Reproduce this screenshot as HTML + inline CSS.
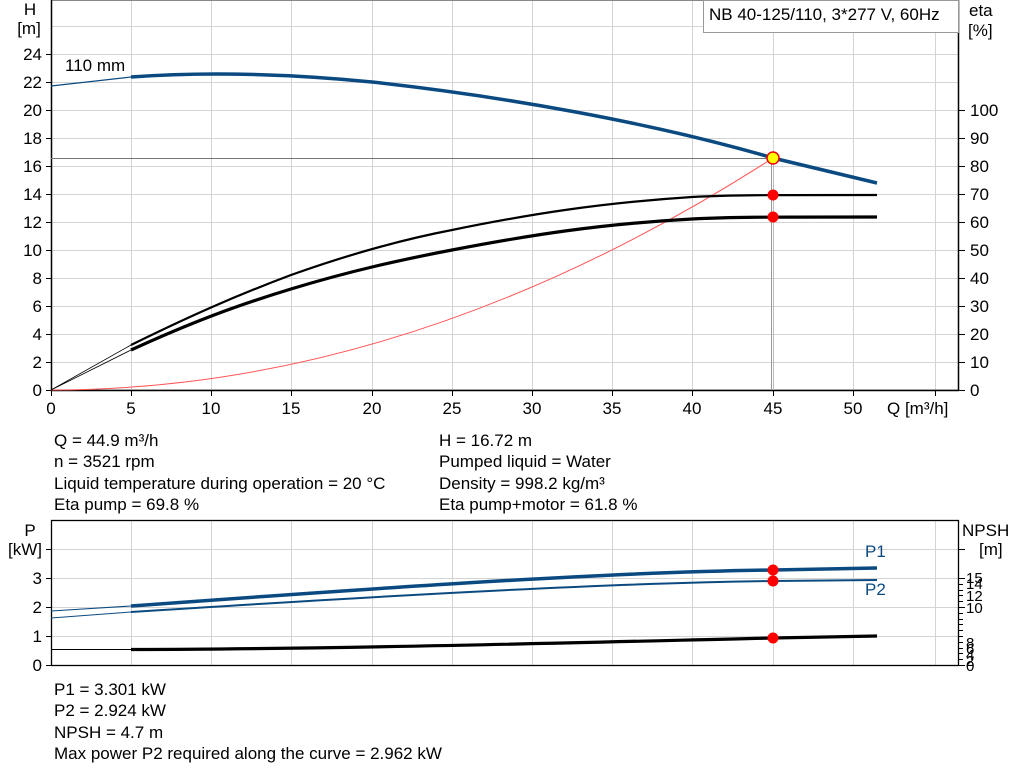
<!DOCTYPE html>
<html><head><meta charset="utf-8"><style>
body{margin:0;background:#fff}
svg{display:block;font-family:"Liberation Sans",sans-serif}
</style></head><body>
<svg width="1024" height="781" viewBox="0 0 1024 781" xmlns="http://www.w3.org/2000/svg">
<rect width="1024" height="781" fill="#fff"/>
<g stroke="#d4d4d4" stroke-width="1">
<line x1="131.5" y1="0" x2="131.5" y2="390"/><line x1="211.5" y1="0" x2="211.5" y2="390"/><line x1="291.5" y1="0" x2="291.5" y2="390"/><line x1="372.5" y1="0" x2="372.5" y2="390"/><line x1="452.5" y1="0" x2="452.5" y2="390"/><line x1="532.5" y1="0" x2="532.5" y2="390"/><line x1="612.5" y1="0" x2="612.5" y2="390"/><line x1="692.5" y1="0" x2="692.5" y2="390"/><line x1="773.5" y1="0" x2="773.5" y2="390"/><line x1="853.5" y1="0" x2="853.5" y2="390"/><line x1="935.5" y1="0" x2="935.5" y2="390"/>
<line x1="51" y1="362.5" x2="959" y2="362.5"/><line x1="51" y1="334.5" x2="959" y2="334.5"/><line x1="51" y1="306.5" x2="959" y2="306.5"/><line x1="51" y1="278.5" x2="959" y2="278.5"/><line x1="51" y1="250.5" x2="959" y2="250.5"/><line x1="51" y1="222.5" x2="959" y2="222.5"/><line x1="51" y1="194.5" x2="959" y2="194.5"/><line x1="51" y1="166.5" x2="959" y2="166.5"/><line x1="51" y1="138.5" x2="959" y2="138.5"/><line x1="51" y1="110.5" x2="959" y2="110.5"/><line x1="51" y1="82.5" x2="959" y2="82.5"/><line x1="51" y1="54.5" x2="959" y2="54.5"/><line x1="51" y1="26.5" x2="959" y2="26.5"/>
</g>
<rect x="51.5" y="0.5" width="907" height="389.5" fill="none" stroke="#888" stroke-width="1"/>
<line x1="51.5" y1="0" x2="51.5" y2="391" stroke="#000" stroke-width="1.5"/>
<line x1="51" y1="390.5" x2="959" y2="390.5" stroke="#000" stroke-width="1.5"/>
<line x1="958.5" y1="0" x2="958.5" y2="391" stroke="#000" stroke-width="1.5"/>
<g stroke="#000" stroke-width="1">
<line x1="46" y1="390.5" x2="51" y2="390.5"/><line x1="46" y1="362.5" x2="51" y2="362.5"/><line x1="46" y1="334.5" x2="51" y2="334.5"/><line x1="46" y1="306.5" x2="51" y2="306.5"/><line x1="46" y1="278.5" x2="51" y2="278.5"/><line x1="46" y1="250.5" x2="51" y2="250.5"/><line x1="46" y1="222.5" x2="51" y2="222.5"/><line x1="46" y1="194.5" x2="51" y2="194.5"/><line x1="46" y1="166.5" x2="51" y2="166.5"/><line x1="46" y1="138.5" x2="51" y2="138.5"/><line x1="46" y1="110.5" x2="51" y2="110.5"/><line x1="46" y1="82.5" x2="51" y2="82.5"/><line x1="46" y1="54.5" x2="51" y2="54.5"/>
<line x1="959" y1="390.5" x2="965" y2="390.5"/><line x1="959" y1="362.5" x2="965" y2="362.5"/><line x1="959" y1="334.5" x2="965" y2="334.5"/><line x1="959" y1="306.5" x2="965" y2="306.5"/><line x1="959" y1="278.5" x2="965" y2="278.5"/><line x1="959" y1="250.5" x2="965" y2="250.5"/><line x1="959" y1="222.5" x2="965" y2="222.5"/><line x1="959" y1="194.5" x2="965" y2="194.5"/><line x1="959" y1="166.5" x2="965" y2="166.5"/><line x1="959" y1="138.5" x2="965" y2="138.5"/><line x1="959" y1="110.5" x2="965" y2="110.5"/>
<line x1="51.5" y1="390" x2="51.5" y2="396"/><line x1="131.5" y1="390" x2="131.5" y2="396"/><line x1="211.5" y1="390" x2="211.5" y2="396"/><line x1="291.5" y1="390" x2="291.5" y2="396"/><line x1="372.5" y1="390" x2="372.5" y2="396"/><line x1="452.5" y1="390" x2="452.5" y2="396"/><line x1="532.5" y1="390" x2="532.5" y2="396"/><line x1="612.5" y1="390" x2="612.5" y2="396"/><line x1="692.5" y1="390" x2="692.5" y2="396"/><line x1="773.5" y1="390" x2="773.5" y2="396"/><line x1="853.5" y1="390" x2="853.5" y2="396"/><line x1="935.5" y1="390" x2="935.5" y2="396"/>
</g>
<g font-size="17" fill="#000" text-anchor="end">
<text x="42" y="396">0</text><text x="42" y="368">2</text><text x="42" y="340">4</text><text x="42" y="312">6</text><text x="42" y="284">8</text><text x="42" y="256">10</text><text x="42" y="228">12</text><text x="42" y="200">14</text><text x="42" y="172">16</text><text x="42" y="144">18</text><text x="42" y="116">20</text><text x="42" y="88">22</text><text x="42" y="60">24</text>
</g>
<text x="30" y="15" font-size="17" text-anchor="middle">H</text>
<text x="29" y="34" font-size="17" text-anchor="middle">[m]</text>
<g font-size="17" fill="#000">
<text x="970" y="396">0</text><text x="970" y="368">10</text><text x="970" y="340">20</text><text x="970" y="312">30</text><text x="970" y="284">40</text><text x="970" y="256">50</text><text x="970" y="228">60</text><text x="970" y="200">70</text><text x="970" y="172">80</text><text x="970" y="144">90</text><text x="970" y="116">100</text>
<text x="969" y="16">eta</text><text x="968" y="36">[%]</text>
</g>
<g font-size="17" text-anchor="middle">
<text x="51" y="414">0</text><text x="131" y="414">5</text><text x="211" y="414">10</text><text x="291" y="414">15</text><text x="372" y="414">20</text><text x="452" y="414">25</text><text x="532" y="414">30</text><text x="612" y="414">35</text><text x="692" y="414">40</text><text x="773" y="414">45</text><text x="853" y="414">50</text>
</g>
<text x="887" y="414" font-size="17">Q [m³/h]</text>
<rect x="703.5" y="0.5" width="255" height="32" fill="#fff" stroke="#999"/>
<text x="709" y="20" font-size="17">NB 40-125/110, 3*277 V, 60Hz</text>
<text x="65" y="71" font-size="17">110 mm</text>
<line x1="51" y1="158.5" x2="773" y2="158.5" stroke="#777" stroke-width="1"/>
<line x1="771.5" y1="158" x2="771.5" y2="390" stroke="#999" stroke-width="1"/>
<line x1="773.5" y1="158" x2="773.5" y2="390" stroke="#bbb" stroke-width="1"/>
<path d="M51,390 Q412,390 773,158" fill="none" stroke="#f55" stroke-width="1"/>
<path d="M51,86 L131,77" stroke="#0b4a80" stroke-width="1.2" fill="none"/>
<path d="M131,77 C200,72 280,73 372,82 C500,96 650,122 773,158 L877,183" stroke="#0b4a80" stroke-width="3.5" fill="none"/>
<path d="M51,390 L131,345 M51,390 L131,350" stroke="#000" stroke-width="0.8" fill="none"/>
<path d="M131,345 C190,316 235,296 291,275 C350,254 400,240 452,230 C530,214 600,203 692,197 C730,195 760,195 877,195" stroke="#000" stroke-width="2.2" fill="none"/>
<path d="M131,350 C190,323 235,306 291,289 C350,271 400,260 452,250 C530,235 600,224 692,219 C730,217 760,217 877,217" stroke="#000" stroke-width="3.2" fill="none"/>
<circle cx="773" cy="195" r="5.5" fill="#f00"/>
<circle cx="773" cy="217" r="5.5" fill="#f00"/>
<circle cx="773" cy="158" r="6" fill="#ff0" stroke="#e00" stroke-width="1.5"/>
<g font-size="17">
<text x="54" y="446">Q = 44.9 m³/h</text><text x="54" y="467">n = 3521 rpm</text><text x="54" y="489">Liquid temperature during operation = 20 °C</text><text x="54" y="510">Eta pump = 69.8 %</text>
<text x="439" y="446">H = 16.72 m</text><text x="439" y="467">Pumped liquid = Water</text><text x="439" y="489">Density = 998.2 kg/m³</text><text x="439" y="510">Eta pump+motor = 61.8 %</text>
</g>
<g stroke="#d4d4d4" stroke-width="1">
<line x1="131.5" y1="520" x2="131.5" y2="665"/><line x1="211.5" y1="520" x2="211.5" y2="665"/><line x1="291.5" y1="520" x2="291.5" y2="665"/><line x1="372.5" y1="520" x2="372.5" y2="665"/><line x1="452.5" y1="520" x2="452.5" y2="665"/><line x1="532.5" y1="520" x2="532.5" y2="665"/><line x1="612.5" y1="520" x2="612.5" y2="665"/><line x1="692.5" y1="520" x2="692.5" y2="665"/><line x1="773.5" y1="520" x2="773.5" y2="665"/><line x1="853.5" y1="520" x2="853.5" y2="665"/><line x1="935.5" y1="520" x2="935.5" y2="665"/>
<line x1="51" y1="636.5" x2="959" y2="636.5"/><line x1="51" y1="607.5" x2="959" y2="607.5"/><line x1="51" y1="578.5" x2="959" y2="578.5"/><line x1="51" y1="549.5" x2="959" y2="549.5"/>
</g>
<rect x="51.5" y="520.5" width="907" height="145" fill="none" stroke="#000" stroke-width="1.3"/>
<g stroke="#000" stroke-width="1">
<line x1="46" y1="665.5" x2="51" y2="665.5"/><line x1="46" y1="636.5" x2="51" y2="636.5"/><line x1="46" y1="607.5" x2="51" y2="607.5"/><line x1="46" y1="578.5" x2="51" y2="578.5"/><line x1="46" y1="549.5" x2="51" y2="549.5"/>
<line x1="959" y1="665.5" x2="965" y2="665.5"/><line x1="959" y1="659.5" x2="963" y2="659.5"/><line x1="959" y1="653.5" x2="963" y2="653.5"/><line x1="959" y1="648.5" x2="963" y2="648.5"/><line x1="959" y1="642.5" x2="963" y2="642.5"/><line x1="959" y1="636.5" x2="963" y2="636.5"/><line x1="959" y1="630.5" x2="963" y2="630.5"/><line x1="959" y1="624.5" x2="963" y2="624.5"/><line x1="959" y1="619.5" x2="963" y2="619.5"/><line x1="959" y1="613.5" x2="963" y2="613.5"/><line x1="959" y1="607.5" x2="965" y2="607.5"/><line x1="959" y1="601.5" x2="963" y2="601.5"/><line x1="959" y1="595.5" x2="963" y2="595.5"/><line x1="959" y1="590.5" x2="963" y2="590.5"/><line x1="959" y1="584.5" x2="963" y2="584.5"/><line x1="959" y1="578.5" x2="965" y2="578.5"/><line x1="959" y1="549.5" x2="965" y2="549.5"/>
</g>
<g font-size="17" text-anchor="end">
<text x="42" y="671">0</text><text x="42" y="642">1</text><text x="42" y="613">2</text><text x="42" y="584">3</text>
</g>
<text x="30" y="536" font-size="17" text-anchor="middle">P</text>
<text x="25" y="555" font-size="17" text-anchor="middle">[kW]</text>
<text x="962" y="536" font-size="17">NPSH</text>
<text x="979" y="555" font-size="17">[m]</text>
<g font-size="15" fill="#000">
<text x="966" y="671">0</text><text x="966" y="666">2</text><text x="966" y="660">4</text><text x="966" y="654">6</text><text x="966" y="648">8</text><text x="966" y="613">10</text><text x="966" y="601">12</text><text x="966" y="589">14</text><text x="966" y="583">15</text>
</g>
<path d="M51,611 L131,606 M51,618 L131,612" stroke="#0b4a80" stroke-width="1" fill="none"/>
<path d="M131,606 C350,590 600,572 773,570 L877,568" stroke="#0b4a80" stroke-width="3.5" fill="none"/>
<path d="M131,612 C350,598 600,583 773,581 L877,580" stroke="#0b4a80" stroke-width="2" fill="none"/>
<path d="M51,649.5 L131,649.5" stroke="#000" stroke-width="1" fill="none"/>
<path d="M131,649.5 C350,649 600,642 773,638 L877,636" stroke="#000" stroke-width="3.2" fill="none"/>
<circle cx="773" cy="570" r="5.5" fill="#f00"/>
<circle cx="773" cy="581" r="5.5" fill="#f00"/>
<circle cx="773" cy="638" r="5.5" fill="#f00"/>
<text x="865" y="557" font-size="17" fill="#0b4a80">P1</text>
<text x="865" y="595" font-size="17" fill="#0b4a80">P2</text>
<g font-size="17">
<text x="54" y="695">P1 = 3.301 kW</text><text x="54" y="716">P2 = 2.924 kW</text><text x="54" y="738">NPSH = 4.7 m</text><text x="54" y="759">Max power P2 required along the curve = 2.962 kW</text>
</g>
</svg>
</body></html>
